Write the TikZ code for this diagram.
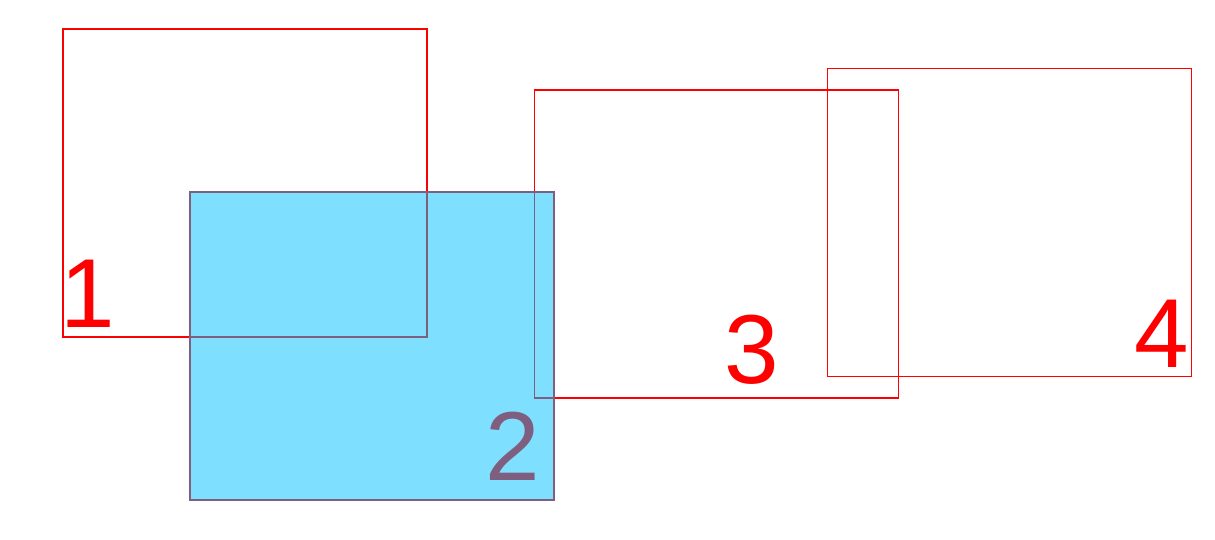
\documentclass[tikz,border=0pt]{standalone}
\usepackage{fontspec}
\setmainfont{Liberation Sans}
\definecolor{skyfill}{RGB}{0,191,255}
\begin{document}
\begin{tikzpicture}
	[x=1pt,y=-1pt,
	frame/.style={draw=red,line width=1.3pt,minimum width=364pt,minimum height=308pt,inner sep=0pt},
	num/.style={text=red,inner sep=0pt,anchor=base,font=\fontsize{98}{100}\selectfont}]
\useasboundingbox (0,0) rectangle (1215,540);
\node[frame,name=r1] at (245,183) {};
\node[frame,name=r2] at (372,346) {};
\node[frame,name=r3] at (716.5,244) {};
\node[frame,name=r4] at (1009.5,222.5) {};
\node[num,name=n1] at (88,327) {1};
\node[num,name=n2] at (512.5,480) {2};
\node[num,name=n3] at (751.5,383) {3};
\node[num,name=n4] at (1162,367) {4};
\fill[skyfill,fill opacity=0.5](r2.south west) rectangle (r2.north east);
\end{tikzpicture}
\end{document}
